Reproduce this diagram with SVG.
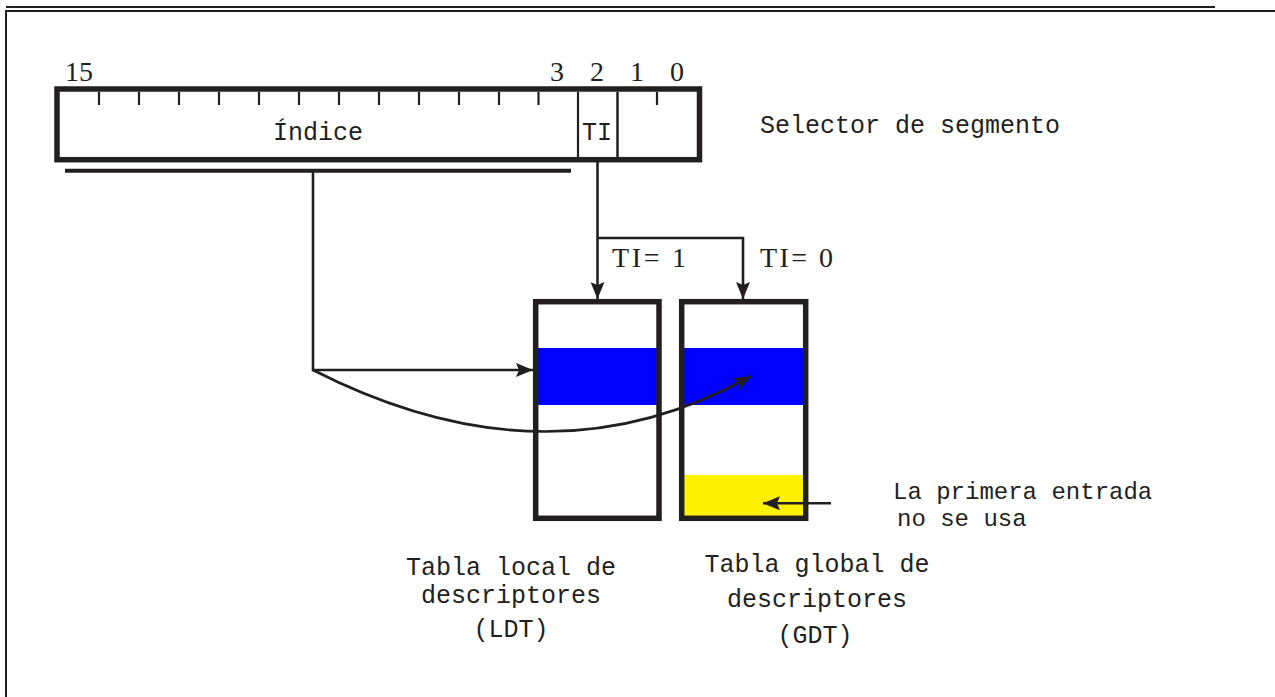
<svg xmlns="http://www.w3.org/2000/svg" width="1275" height="697" viewBox="0 0 1275 697">
<style>
.ln{stroke:#231f20;fill:none}
.mono{font-family:"Liberation Mono","DejaVu Sans Mono",monospace;font-size:25px;fill:#231f20}
.serif{font-family:"Liberation Serif","DejaVu Serif",serif;font-size:28px;fill:#231f20}
.box{stroke:#231f20;stroke-width:5.5;fill:none}
</style>
<defs>
<marker id="ah" markerUnits="userSpaceOnUse" markerWidth="18" markerHeight="14" refX="17" refY="7" orient="auto">
<path d="M0,0 L17,7 L0,14 L3,7 z" fill="#231f20"/>
</marker>
</defs>
<rect width="1275" height="697" fill="#fff"/>
<g id="frame">
<line class="ln" x1="6" y1="7" x2="1215" y2="7" stroke-width="2"/>
<line class="ln" x1="5" y1="11" x2="1275" y2="11" stroke-width="2"/>
<line class="ln" x1="6" y1="10" x2="6" y2="697" stroke-width="2"/>
</g>
<g id="selector">
<rect class="box" x="57" y="89" width="642.5" height="70.7" stroke-width="6"/>
<g class="ln" stroke-width="2.2">
<line x1="99" y1="92" x2="99" y2="105"/>
<line x1="139" y1="92" x2="139" y2="105"/>
<line x1="179" y1="92" x2="179" y2="105"/>
<line x1="219" y1="92" x2="219" y2="105"/>
<line x1="259" y1="92" x2="259" y2="105"/>
<line x1="299" y1="92" x2="299" y2="105"/>
<line x1="339" y1="92" x2="339" y2="105"/>
<line x1="379" y1="92" x2="379" y2="105"/>
<line x1="419" y1="92" x2="419" y2="105"/>
<line x1="459" y1="92" x2="459" y2="105"/>
<line x1="499" y1="92" x2="499" y2="105"/>
<line x1="538.5" y1="92" x2="538.5" y2="105"/>
<line x1="657" y1="92" x2="657" y2="105"/>
</g>
<line class="ln" x1="578" y1="92" x2="578" y2="157" stroke-width="2.2"/>
<line class="ln" x1="617.5" y1="92" x2="617.5" y2="157" stroke-width="2.5"/>
<text class="serif" x="79" y="81" text-anchor="middle">15</text>
<text class="serif" x="557" y="81" text-anchor="middle">3</text>
<text class="serif" x="597" y="81" text-anchor="middle">2</text>
<text class="serif" x="637" y="81" text-anchor="middle">1</text>
<text class="serif" x="677" y="81" text-anchor="middle">0</text>
<text class="mono" x="318" y="140" text-anchor="middle">Índice</text>
<text class="mono" x="597" y="140" text-anchor="middle">TI</text>
<text class="mono" x="760" y="133">Selector de segmento</text>
</g>
<g id="ldt">
<rect x="538" y="348" width="119" height="57" fill="#0000ff"/>
<rect class="box" x="535.7" y="301.7" width="123.3" height="216.6" stroke-width="5"/>
<text class="mono" x="511" y="575" text-anchor="middle">Tabla local de</text>
<text class="mono" x="511" y="603" text-anchor="middle">descriptores</text>
<text class="mono" x="511" y="637" text-anchor="middle">(LDT)</text>
</g>
<g id="gdt">
<rect x="684" y="348" width="119.5" height="57" fill="#0000ff"/>
<rect x="684" y="475" width="119.5" height="41" fill="#fff200"/>
<rect class="box" x="681.7" y="301.7" width="124" height="216.6" stroke-width="5"/>
<text class="mono" x="817" y="572" text-anchor="middle">Tabla global de</text>
<text class="mono" x="817" y="607" text-anchor="middle">descriptores</text>
<text class="mono" x="815" y="643" text-anchor="middle">(GDT)</text>
</g>
<g id="note">
<text class="mono" x="893" y="499" style="font-size:24px">La primera entrada</text>
<text class="mono" x="897" y="526" style="font-size:24px">no se usa</text>
</g>
<g id="connectors" class="ln" stroke-width="2.6">
<line x1="65" y1="170.7" x2="571" y2="170.7" stroke-width="4"/>
<polyline points="313,171 313,370 533,370" marker-end="url(#ah)"/>
<path d="M313,370 Q548,490 751,376" marker-end="url(#ah)"/>
<line x1="597.5" y1="160" x2="597.5" y2="299" marker-end="url(#ah)"/>
<polyline points="597.5,238 743,238 743,299" marker-end="url(#ah)"/>
<line x1="831" y1="503.3" x2="763" y2="503.3" marker-end="url(#ah)"/>
<text class="serif" stroke="none" x="612" y="267" textLength="74" lengthAdjust="spacing">TI= 1</text>
<text class="serif" stroke="none" x="760" y="267" textLength="73" lengthAdjust="spacing">TI= 0</text>
</g>
</svg>
